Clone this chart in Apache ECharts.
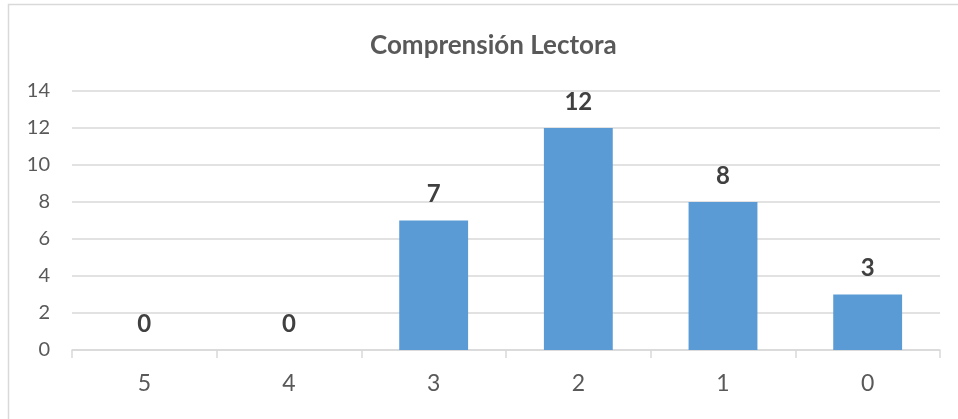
<!DOCTYPE html>
<html><head><meta charset="utf-8">
<script src="https://cdn.jsdelivr.net/npm/echarts@6/dist/echarts.min.js"></script>
<style>html,body{margin:0;padding:0;background:#fff}#c{width:958px;height:419px}</style>
</head><body><div id="c"></div>
<script>
const titleText = "Comprensión Lectora";
const categories = ["5", "4", "3", "2", "1", "0"];
const values = [0, 0, 7, 12, 8, 3];
const yTicks = { min: 0, max: 14, interval: 2 };

const chart = echarts.init(document.getElementById('c'), null, { renderer: 'canvas' });
chart.setOption({
  backgroundColor: '#fff',
  animation: false,
  title: {
    text: titleText, left: 365, top: 28,
    textStyle: { fontFamily: 'Lato', fontWeight: 'bold', fontSize: 26, color: '#595959' }
  },
  graphic: [{
    type: 'rect', shape: { x: 8.5, y: 4.5, width: 1000, height: 500 },
    style: { fill: 'none', stroke: '#d9d9d9', lineWidth: 1.5 }, silent: true
  }],
  grid: { left: 72, right: 18, top: 91, bottom: 69 },
  xAxis: {
    type: 'category', data: categories,
    axisLine: { lineStyle: { color: '#d9d9d9', width: 1.5 } },
    axisTick: { show: true, length: 8, lineStyle: { color: '#d9d9d9', width: 1.5 } },
    axisLabel: { margin: 22, fontFamily: 'Lato', fontSize: 23, color: '#595959' }
  },
  yAxis: {
    type: 'value', min: yTicks.min, max: yTicks.max, interval: yTicks.interval,
    axisLine: { show: false }, axisTick: { show: false },
    splitLine: { lineStyle: { color: '#d9d9d9', width: 1.5 } },
    axisLabel: { margin: 22, fontFamily: 'Lato', fontSize: 20, color: '#595959' }
  },
  series: [{
    type: 'bar', data: values, barWidth: '47.6%',
    itemStyle: { color: '#5B9BD5' },
    label: {
      show: true, position: 'top', distance: 14,
      fontFamily: 'Lato', fontWeight: 'bold', fontSize: 24, color: '#404040'
    }
  }]
});
</script></body></html>
